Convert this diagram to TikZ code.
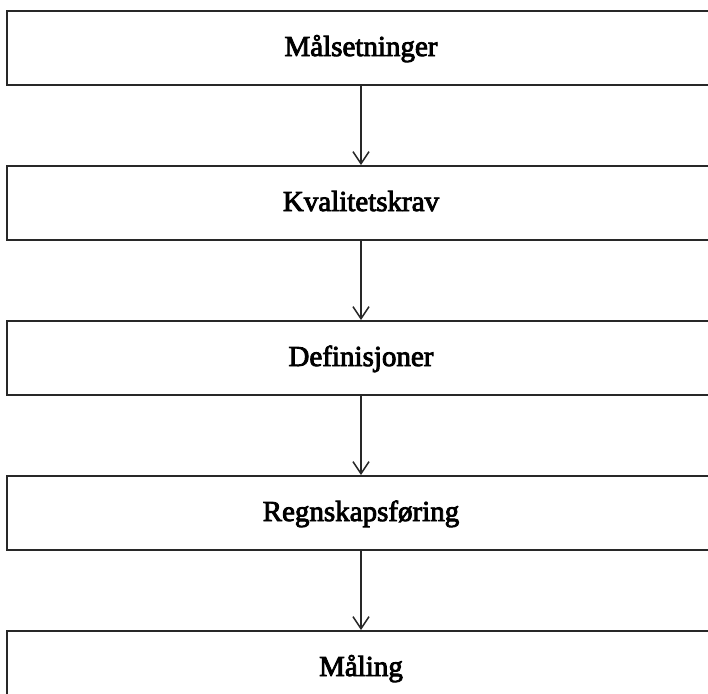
\documentclass[tikz,border=0pt]{standalone}
\usepackage{fontspec}
\setmainfont{Liberation Serif}[FakeBold=3]
\usetikzlibrary{arrows.meta,positioning}
\definecolor{linegray}{RGB}{40,40,40}

\begin{document}
\begin{tikzpicture}[x=0.5pt, y=-0.5pt, font=\fontsize{14.5}{17}\selectfont,
    stagebox/.style={draw=linegray, line width=1pt, minimum width=354pt, minimum height=37pt,
      inner sep=0pt, text height=10pt, text depth=2pt},
    flow/.style={-{Straight Barb[length=6pt,width=8pt]}, draw=linegray, line width=0.75pt},
    node distance=39.5pt]
  \useasboundingbox (0,0) rectangle (708,693);
  % stages, top to bottom
  \node[stagebox] (maal) at (361,48) {Målsetninger};
  \node[stagebox, below=of maal] (krav) {Kvalitetskrav};
  \node[stagebox, below=of krav] (def) {Definisjoner};
  \node[stagebox, below=of def] (regn) {Regnskapsføring};
  \node[stagebox, below=of regn] (maaling) {Måling};
  % arrows between stages
  \draw[flow] (maal) -- (krav);
  \draw[flow] (krav) -- (def);
  \draw[flow] (def) -- (regn);
  \draw[flow] (regn) -- (maaling);
\end{tikzpicture}
\end{document}
